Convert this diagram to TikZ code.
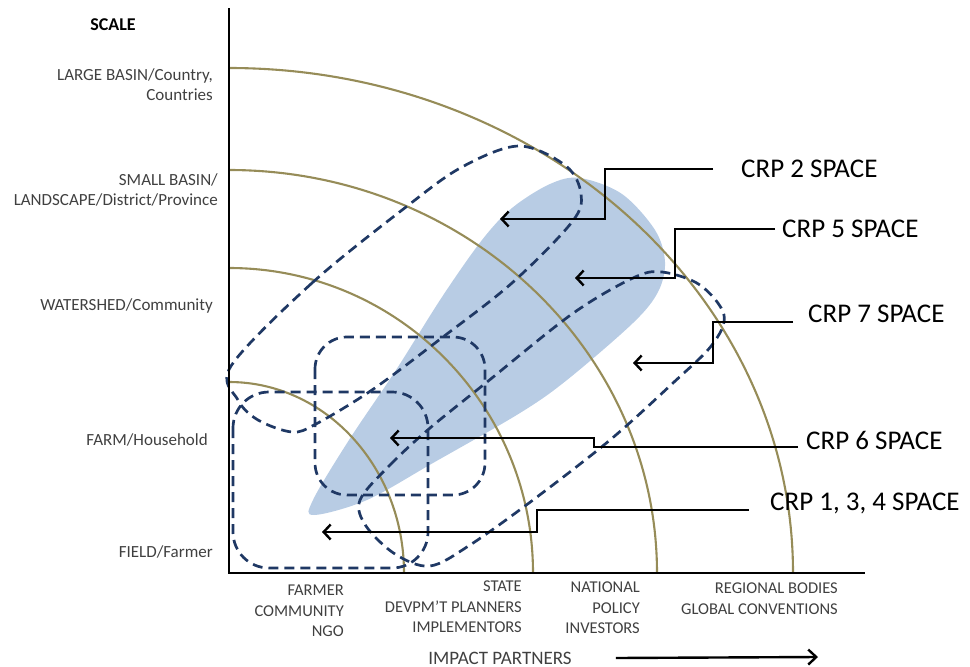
\documentclass[tikz,border=0pt]{standalone}
\usepackage{fontspec}
\setmainfont{Carlito}
\usetikzlibrary{arrows.meta}
\definecolor{arcgold}{RGB}{150,140,88}
\definecolor{crpnavy}{RGB}{31,56,100}
\definecolor{crpblue}{RGB}{184,204,228}
\definecolor{axisgray}{RGB}{64,64,64}

\begin{document}
\begin{tikzpicture}[x=1pt,y=-1pt,
  scalearc/.style={arcgold, line width=2.1pt},
  crploop/.style={crpnavy, line width=2.7pt, dash pattern=on 10pt off 6pt},
  pointer/.style={line width=2.4pt, -{Straight Barb[length=7pt,width=15pt]}},
  scalelabel/.style={text=axisgray, font=\fontsize{17}{20}\selectfont, align=right, anchor=east, inner sep=0pt},
  partnerlabel/.style={text=axisgray, font=\fontsize{16.5}{20.5}\selectfont, align=right, anchor=north east, inner sep=0pt},
  crplabel/.style={font=\fontsize{27}{30}\selectfont, anchor=west, inner sep=0pt}]

\useasboundingbox (0,0) rectangle (970,667);
\coordinate (origin) at (229,573);

% CRP 5 space (shaded)
\fill[crpblue] plot[smooth cycle, tension=0.55] coordinates {
  (314,515) (367,500) (433,463) (520,413) (567,380) (633,323) (658,292)
  (665,262) (655,230) (622,194) (580,178) (550,184) (512,208) (482,240)
  (442,297) (396,370) (349,440) (313,500)};

% Scale arcs
\foreach \rx/\ry in {175/191, 304/305, 428/403, 564/505}
  \draw[scalearc] (origin) ++(0,-\ry) arc[start angle=-90, end angle=0, x radius=\rx, y radius=\ry];

% CRP spaces (dashed)
\draw[crploop] plot[smooth cycle, tension=0.55] coordinates {
  (231,366) (312,283) (406,207) (462,167) (519,146) (566,166) (581,194)
  (572,222) (512,283) (439,340) (372,390) (316,424) (292,432) (258,420) (238,400)};
\draw[crploop] plot[smooth cycle, tension=0.55] coordinates {
  (360,500) (390,465) (430,428) (487,382) (572,314) (633,278) (662,272)
  (700,285) (724,315) (712,345) (673,383) (610,440) (533,500) (470,545)
  (430,566) (395,554) (366,526)};
\draw[crploop, rounded corners=36pt] (233,392) rectangle (428,568);
\draw[crploop, rounded corners=32pt] (315,337) rectangle (485,495);

% Axes
\draw[line width=2.8pt] (229,8) -- (origin) -- (865,573);

% Scale labels
\node[font=\bfseries\fontsize{18}{20}\selectfont, inner sep=0pt] (scale) at (113,25) {SCALE};
\node[scalelabel] (basin) at (213,85) {LARGE BASIN/Country,\\Countries};
\node[scalelabel] (landscape) at (218,190) {SMALL BASIN/\\LANDSCAPE/District/Province};
\node[scalelabel] (watershed) at (213,306) {WATERSHED/Community};
\node[scalelabel] (farm) at (208,440) {FARM/Household};
\node[scalelabel] (field) at (213,552) {FIELD/Farmer};

% Impact partners
\node[partnerlabel] (community) at (344,585) {FARMER\\COMMUNITY\\NGO};
\node[partnerlabel] (state) at (522,581) {STATE\\DEVPM'T PLANNERS\\IMPLEMENTORS};
\node[partnerlabel] (national) at (640,582) {NATIONAL\\POLICY\\INVESTORS};
\node[partnerlabel] (regional) at (838,583) {REGIONAL BODIES\\GLOBAL CONVENTIONS};
\node[text=axisgray, font=\fontsize{19}{22}\selectfont, inner sep=0pt] (impact) at (500,658) {IMPACT PARTNERS};
\coordinate (impactend) at (818,657);
\draw[line width=2.4pt, -{Straight Barb[length=8pt,width=15pt]}] ([xshift=44pt]impact.east) -- (impactend);

% CRP labels and pointers
\node[crplabel] (crp2) at (741,169) {CRP 2 SPACE};
\node[crplabel] (crp5) at (782,229) {CRP 5 SPACE};
\node[crplabel] (crp7) at (808,314) {CRP 7 SPACE};
\node[crplabel] (crp6) at (806,440) {CRP 6 SPACE};
\node[crplabel] (crp134) at (770,503) {CRP 1, 3, 4 SPACE};
\coordinate (crp2end) at (500,219);
\coordinate (crp5end) at (575,278);
\coordinate (crp7end) at (633,363);
\coordinate (crp6end) at (390,438);
\coordinate (crp134end) at (322,532);
\draw[pointer] ([xshift=-28pt]crp2.west) -| (605,219) -- (crp2end);
\draw[pointer] ([xshift=-7pt]crp5.west) -| (675,278) -- (crp5end);
\draw[pointer] ([xshift=-15pt,yshift=-8pt]crp7.west) -| (713,363) -- (crp7end);
\draw[pointer] ([xshift=-8pt,yshift=-7pt]crp6.west) -| (594,438) -- (crp6end);
\draw[pointer] ([xshift=-21pt,yshift=-7pt]crp134.west) -| (537,532) -- (crp134end);
\end{tikzpicture}
\end{document}
